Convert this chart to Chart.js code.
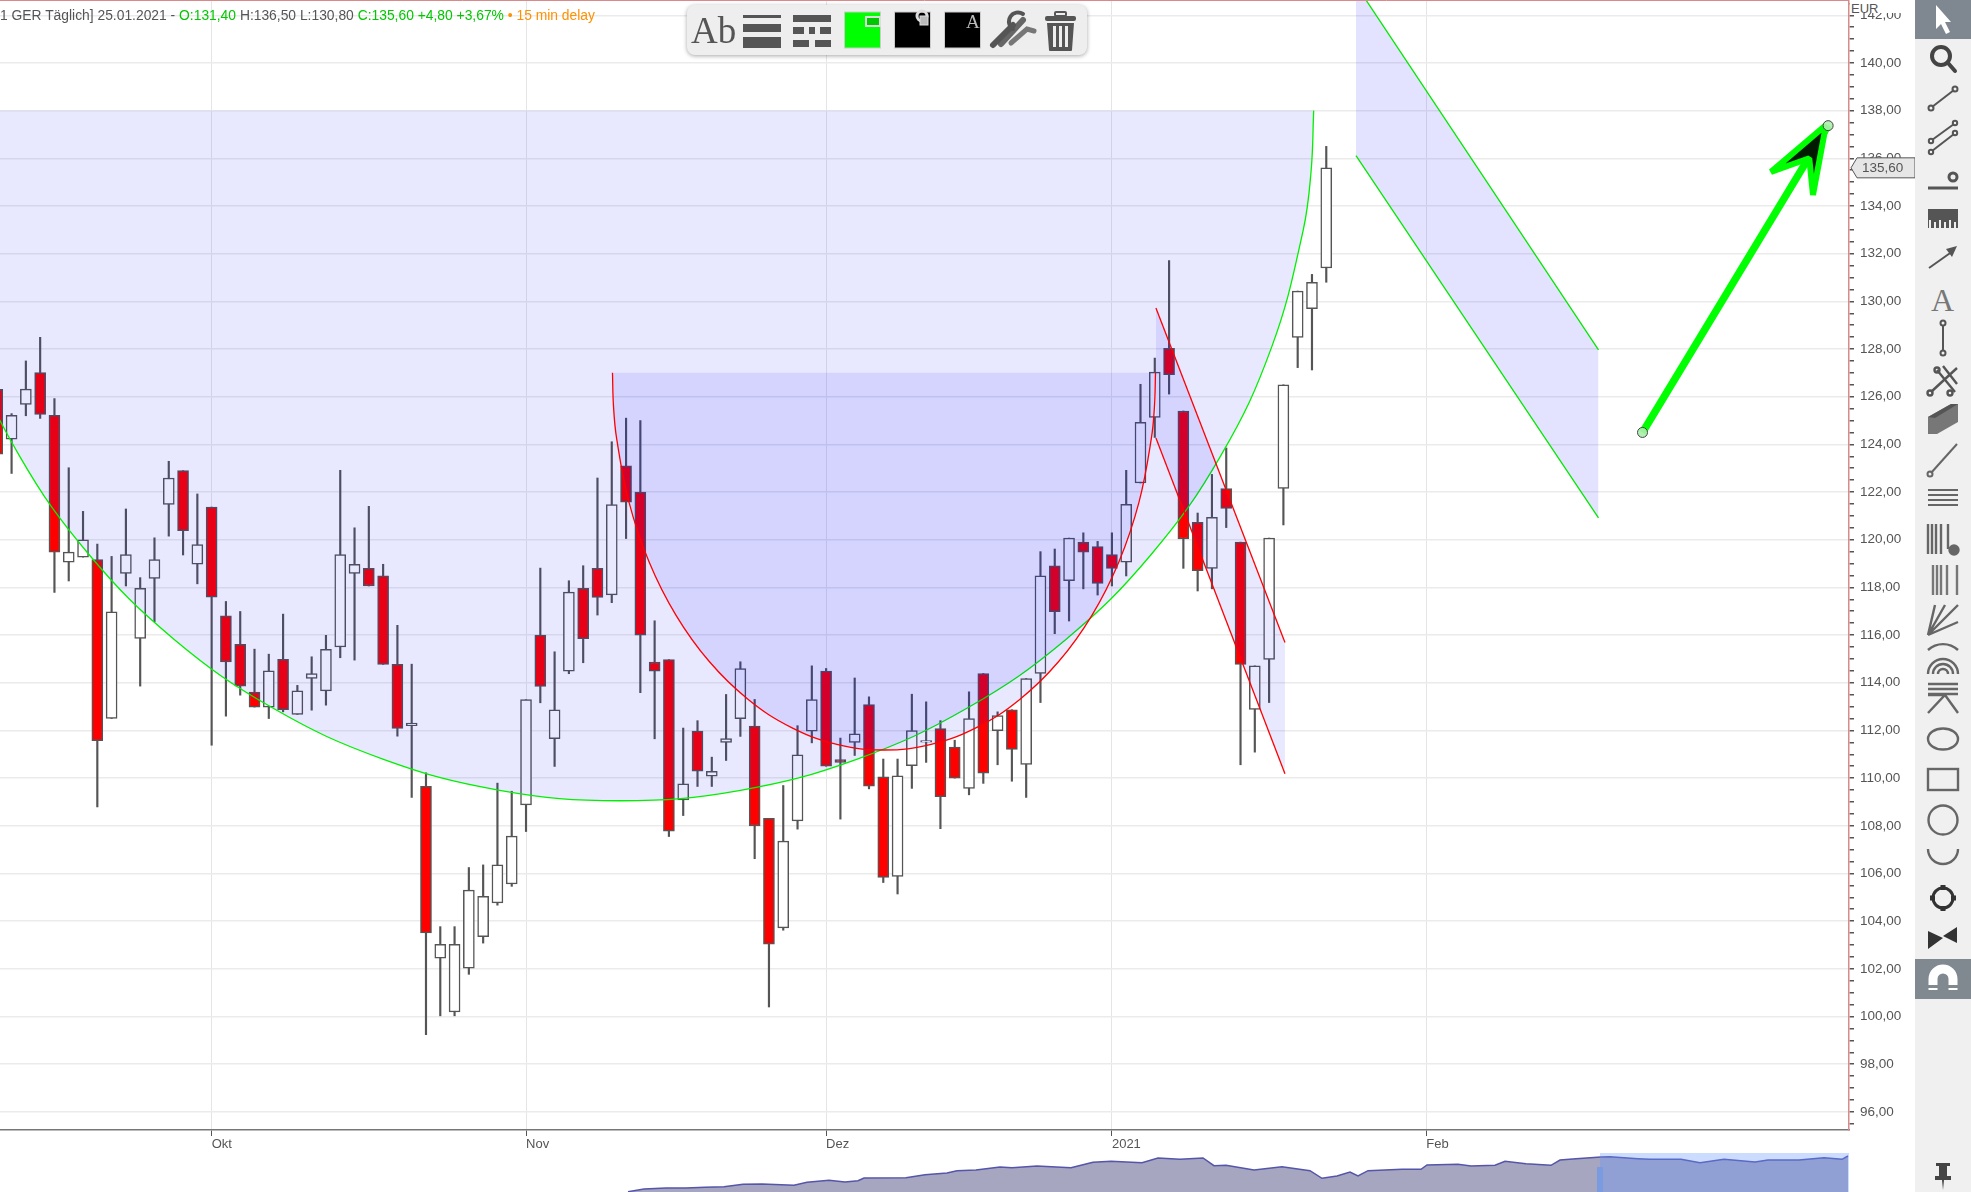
<!DOCTYPE html>
<html>
<head>
<meta charset="utf-8">
<title>Chart</title>
<script src="https://cdn.jsdelivr.net/npm/chart.js@4"></script>
<style>
  html, body { margin: 0; padding: 0; background: #fff; overflow: hidden; }
  #page { position: relative; width: 1971px; height: 1192px; font-family: "Liberation Sans", sans-serif; overflow: hidden; }
  #myChart { position: absolute; left: 0; top: 0; }
  #miniChart { position: absolute; left: 0; top: 1150px; }
  #head { position: absolute; left: 0; top: 7px; font-size: 13.85px; line-height: 16px; color: #555; white-space: nowrap; }
  #head .up { color: #00c800; }
  #head .delay { color: #ff9000; }
  #eur { position: absolute; left: 1850px; top: 0; width: 64px; height: 13px; background: #fff; font-size: 13px; line-height: 18px; color: #555; padding-left: 1px; overflow: hidden; }
  #tools { position: absolute; left: 1915px; top: 0; }
  #bar { position: absolute; left: 687px; top: 5px; width: 400px; height: 50px; background: #eee; border-radius: 8px; box-shadow: 0 1px 4px rgba(0,0,0,.35); }
</style>
</head>
<body>
<div id="page">
  <canvas id="myChart" width="1915" height="1150"></canvas>
  <canvas id="miniChart" width="1849" height="42"></canvas>
  <div id="head">1 GER Täglich] 25.01.2021 - <span class="up">O:131,40</span> H:136,50 L:130,80 <span class="up">C:135,60 +4,80 +3,67%</span> <span class="delay">• 15 min delay</span></div>
  <div id="eur">EUR</div>
  <div id="bar">
    <svg width="400" height="50" viewBox="0 0 400 50">
      <text x="4" y="38" font-family="Liberation Serif" font-size="37" fill="#555">Ab</text>
      <g fill="#555">
        <rect x="56" y="10" width="38" height="3"/><rect x="56" y="19" width="38" height="8"/><rect x="56" y="32" width="38" height="11"/>
        <rect x="106" y="10" width="38" height="7"/>
        <rect x="106" y="22" width="11" height="7"/><rect x="122" y="22" width="6" height="7"/><rect x="133" y="22" width="11" height="7"/>
        <rect x="106" y="35" width="16" height="7"/><rect x="128" y="35" width="16" height="7"/>
      </g>
      <rect x="157.5" y="7" width="36" height="36" fill="#00ff00" stroke="#ccc"/>
      <rect x="179" y="12" width="14" height="9" fill="#00c800" stroke="#ddd" stroke-width="2"/>
      <rect x="207.5" y="7" width="36" height="36" fill="#000" stroke="#ccc"/>
      <rect x="257.5" y="7" width="36" height="36" fill="#000" stroke="#ccc"/>
      <circle cx="235" cy="11" r="5" fill="none" stroke="#ddd" stroke-width="3"/>
      <rect x="233" y="11" width="8" height="9" fill="#bbb" stroke="#ddd"/>
      <text x="279" y="23" font-family="Liberation Serif" font-size="19" fill="#bbb">A</text>
      <g stroke="#666" stroke-linecap="round" fill="none">
        <path d="M314 39 L336 15" stroke-width="6"/>
        <path d="M306 40 L326 20" stroke-width="6" stroke="#555"/>
        <path d="M326 24 A9 9 0 0 1 336 9" stroke-width="4" stroke="#555"/>
        <path d="M324 38 L340 24 L347 26" stroke-width="5" stroke="#777"/>
      </g>
      <g fill="#555">
        <rect x="358" y="11" width="31" height="5" rx="2"/>
        <rect x="368" y="7" width="11" height="4" rx="1" fill="none" stroke="#555" stroke-width="2"/>
        <path d="M360 18 H387 L385 45 Q385 46 384 46 H363 Q362 46 362 45 Z"/>
      </g>
      <g fill="#eee"><rect x="366" y="21" width="3" height="21"/><rect x="372" y="21" width="3" height="21"/><rect x="378" y="21" width="3" height="21"/></g>
    </svg>
  </div>
  <svg id="tools" width="56" height="1192" viewBox="0 0 56 1192">
    <rect width="56" height="1192" fill="#f0f0f0"/>
    <rect width="56" height="39" fill="#7f8891"/>
    <rect y="959" width="56" height="40" fill="#808890"/>
    <g transform="translate(28,19)"><path d="M-7 -14 L8 3 L2 3 L7 13 L3 15 L-2 5 L-7 10 Z" fill="#fff"/></g>
    <g fill="none" stroke="#444" stroke-width="2" transform="translate(28,0)">
      <g transform="translate(0,59)" stroke-width="4"><circle cx="-2" cy="-3" r="9"/><path d="M5 4 L12 12" stroke-linecap="round"/></g>
      <g transform="translate(0,98)" stroke="#555"><path d="M-11 9 L11 -8"/><circle cx="-12" cy="10" r="2.5"/><circle cx="12" cy="-9" r="2.5"/></g>
      <g transform="translate(0,137)" stroke="#555"><path d="M-11 3 L11 -13 M-11 14 L11 -3"/><circle cx="-12" cy="4" r="2.2"/><circle cx="12" cy="-14" r="2.2"/><circle cx="-12" cy="15" r="2.2"/><circle cx="12" cy="-4" r="2.2"/></g>
      <g transform="translate(0,177)" stroke="#555"><path d="M-15 11 H15" stroke-width="3"/><circle cx="10" cy="0" r="4" stroke-width="3"/></g>
      <g transform="translate(0,218)" fill="#555" stroke="none"><path d="M-15 -9 H15 V10 H13 V4 H11 V10 H8 V2 H6 V10 H3 V4 H1 V10 H-2 V2 H-4 V10 H-7 V4 H-9 V10 H-12 V2 H-14 V10 H-15 Z"/></g>
      <g transform="translate(0,257)" stroke="#555"><path d="M-14 11 L10 -6"/><path d="M3 -8 L14 -11 L9 0 Z" fill="#555" stroke="none"/></g>
      <g transform="translate(0,299)" fill="#777" stroke="none"><text x="-12" y="12" font-family="Liberation Serif" font-size="32">A</text></g>
      <g transform="translate(0,338)" stroke="#555"><path d="M0 -13 V13"/><circle cx="0" cy="-15" r="2.5"/><circle cx="0" cy="15" r="2.5"/></g>
      <g transform="translate(0,380)" stroke="#555" stroke-width="2.4"><path d="M-12 12 L14 -12 M-6 -10 L12 12 M0 -14 L14 4"/><circle cx="-13" cy="13" r="2.5"/><circle cx="-6" cy="-10" r="2.5"/><circle cx="7" cy="13" r="2.5"/></g>
      <g transform="translate(0,419)" fill="#777" stroke="none"><path d="M-15 -2 L8 -15 H15 V3 L-6 15 H-15 Z"/><path d="M-15 -2 L8 -15 H15 L-8 -1 Z" fill="#555"/></g>
      <g transform="translate(0,459)" stroke="#666"><path d="M-12 14 L14 -15"/><circle cx="-13" cy="15" r="2.5"/></g>
      <g transform="translate(0,499)" stroke="#666"><path d="M-15 -9 H15 M-15 -4 H15 M-15 1 H15 M-15 6 H15"/></g>
      <g transform="translate(0,539)" stroke="#666" stroke-width="2.4"><path d="M-15 -15 V15 M-11 -15 V15 M-7 -15 V15 M-2 -15 V15 M5 -15 V10"/><circle cx="11" cy="11" r="4.5" fill="#666"/></g>
      <g transform="translate(0,580)" stroke="#777" stroke-width="2.4"><path d="M-10 -15 V15 M-6 -15 V15 M-2 -15 V15 M4 -15 V15 M14 -15 V15"/></g>
      <g transform="translate(0,620)" stroke="#666" stroke-width="2.4"><path d="M-15 15 L-8 -15 M-15 15 L2 -15 M-15 15 L15 -15 M-15 15 L15 2"/></g>
      <g transform="translate(0,660)" stroke="#666" stroke-width="2.4"><path d="M-15 -10 A22 22 0 0 1 15 -10 M-15 14 A15 15 0 0 1 15 14 M-10 14 A10 10 0 0 1 10 14 M-5 14 A5 5 0 0 1 5 14"/></g>
      <g transform="translate(0,698)" stroke="#666" stroke-width="2.4"><path d="M-15 -14 H15 M-15 -9 H15 M-15 -4 H15 M-15 15 L2 -3 L15 15 M-15 -3 H2"/></g>
      <g transform="translate(0,739)" stroke="#666" stroke-width="2.4"><ellipse cx="0" cy="0" rx="15" ry="10.5"/></g>
      <g transform="translate(0,780)" stroke="#666" stroke-width="2.4"><rect x="-15" y="-11" width="30" height="21"/></g>
      <g transform="translate(0,820)" stroke="#666" stroke-width="2.4"><circle cx="0" cy="0" r="14.5"/></g>
      <g transform="translate(0,857)" stroke="#666" stroke-width="2.4"><path d="M-15 -8 A15 15 0 0 0 15 -8"/></g>
      <g transform="translate(0,898)" stroke="#333" stroke-width="3"><circle cx="0" cy="0" r="10"/><path d="M-13 0 H-8 M8 0 H13 M0 -13 V-8 M0 8 V13" stroke-width="5"/></g>
      <g transform="translate(0,938)" fill="#333" stroke="none"><path d="M-15 -7 L0 0 L-15 11 Z M14 -11 L0 -2 L14 5 Z"/></g>
      <g transform="translate(0,979)" stroke="#fff" stroke-width="9"><path d="M-10 11 V0 A10 10 0 0 1 10 0 V11"/></g>
      <g transform="translate(0,1176)" fill="#444" stroke="none"><path d="M-7 -13 H7 V-10 H4 V0 H8 V4 H1 L0 14 L-1 4 H-8 V0 H-4 V-10 H-7 Z"/></g>
    </g>
    <g fill="#808890" transform="translate(28,979)"><rect x="-15" y="6" width="10" height="3"/><rect x="5" y="6" width="10" height="3"/></g>
  </svg>
</div>
<script>
// candles, one entry per trading day, first one is cut by the left edge
const opens = [126.31,124.22,125.68,127.01,125.22,119.06,119.27,119.17,112.5,118.59,115.86,118.38,121.48,122.9,118.97,121.37,116.81,115.61,113.61,112.98,114.98,112.67,114.18,113.66,115.5,118.59,118.8,118.49,114.77,112.2,109.66,102.45,100.19,102.03,103.35,104.77,105.56,108.88,116,111.65,114.49,117.96,118.8,117.69,123.1,122,114.87,114.97,109.09,111.97,110.08,111.5,112.49,112.18,108.31,103.72,108.21,111.97,114.49,110.78,111.5,113.08,110.05,105.88,110.52,111.51,112.08,111.3,109.57,114.39,111.99,112.87,110.57,114.39,118.91,118.28,119.9,119.71,119.38,119.06,122.38,125.13,128.03,125.4,120.73,118.8,122.15,119.9,112.88,114.98,122.15,128.49,129.69,131.4];
const closes = [123.59,125.22,126.32,125.26,119.48,119.48,120,111.57,116.98,119.38,117.96,119.17,122.59,120.38,119.8,117.59,114.87,113.86,112.98,114.5,112.87,113.66,114.39,115.4,119.38,118.97,118.06,114.77,112.08,112.31,103.51,103.03,103.03,105.3,105.04,106.36,107.57,113.29,113.85,112.87,117.8,115.85,117.58,121.47,121.58,116,114.49,107.78,109.76,110.29,110.29,111.66,114.59,107.99,103.03,107.36,110.98,113.29,110.5,110.66,111.86,109.66,105.83,110.1,111.99,111.57,109.22,110,112.5,110.21,112.62,111.2,114.18,118.49,116.98,120.07,119.48,118.17,118.8,121.48,124.92,127.03,126.92,120.03,118.7,120.94,121.31,114.77,114.71,120.07,126.5,130.43,130.8,135.6];
const highs = [126.4,125.29,127.5,128.49,125.92,123.02,121.19,119.82,119.3,121.29,118.41,120.08,123.29,122.9,121.92,121.37,117.41,116.99,115.41,115.2,116.88,113.89,115.09,115.99,122.91,120.5,121.4,118.97,116.41,114.78,110.22,103.77,103.77,106.25,106.36,109.79,109.45,113.29,118.81,115.3,118.28,118.91,122.59,124.11,125.1,125,116.6,114.97,112.1,112.41,110.88,113.51,114.88,113.3,108.31,109.69,112.2,114.71,114.6,111.68,114.2,113.41,110.8,110.8,113.52,113.2,112.41,111.59,113.62,114.39,112.78,112.87,114.18,119.5,119.61,120.07,120.29,119.93,120.29,122.91,126.52,127.62,131.71,125.4,121.12,122.74,123.85,119.9,114.71,120.07,126.5,130.43,131.13,136.5];
const lows = [123.5,122.78,125.2,125.09,117.79,118.27,119.27,108.79,112.5,118.06,113.86,116.56,120.15,119.36,118.15,111.38,112.6,113.48,112.98,112.5,112.78,112.67,112.85,113.06,115.05,114.95,118.06,114.77,111.76,109.19,99.24,100.03,100.03,101.77,103.08,104.67,105.46,107.76,113.16,110.49,114.38,114.84,116.84,117.36,120.05,113.58,111.65,107.55,108.43,109.65,109.65,110.74,111.75,106.62,100.4,103.62,107.86,111.48,110.5,108.28,110.95,109.55,105.62,105.14,109.57,110.66,107.88,110,109.3,109.78,110.56,109.87,109.19,113.17,116.06,116.59,117.94,117.68,118.06,118.48,122.38,124.29,126.11,118.8,117.85,117.94,120.51,110.56,111.09,113.17,120.62,127.22,127.12,130.8];

const monthPos = [15,37,58,78,100];
const monthLabels = ['Okt','Nov','Dez','2021','Feb'];
const yLabelled = [96,98,100,102,104,106,108,110,112,114,116,118,120,122,124,126,128,130,132,134,136,138,140,142];

// drawings
const bigArcX = [-4.96,-4.78,-4.22,-2.03,1.54,6.4,12.38,19.31,26.98,35.15,43.58,52.01,60.18,67.85,74.78,80.76,85.62,89.19,91.38,91.94,92.12];
const bigArcY = [138,135.48,132.97,128.1,123.53,119.39,115.82,112.93,110.8,109.49,109.05,109.49,110.8,112.93,115.82,119.39,123.53,128.1,132.97,135.48,138];
const smallArcX = [43.05,43.12,43.34,44.2,45.6,47.5,49.84,52.55,55.55,58.75,62.05,65.35,68.55,71.55,74.26,76.6,78.5,79.9,80.76,80.98,81.05];
const smallArcY = [127,125.62,124.25,121.59,119.09,116.83,114.88,113.3,112.13,111.42,111.18,111.42,112.13,113.3,114.88,116.83,119.09,121.59,124.25,125.62,127];
const redTopX = [81.08,90.11];
const redTopY = [129.72,115.69];
const redLowX = [81.08,90.11];
const redLowY = [124.27,110.18];
const greenTopX = [95.08,112.05];
const greenTopY = [143.27,127.96];
const greenLowX = [95.08,112.05];
const greenLowY = [136.11,120.92];
const arrowX = [115.13,128.12];
const arrowY = [124.5,137.37];
const arrowHeadX = [127.97,124.12,126.8,127.06,127.97];
const arrowHeadY = [137.4,135.43,136,134.46,137.4];

// overview strip at the bottom
const miniX = [628,644,666,686,705,724,743,762,794,807,829,845,858,864,906,925,947,957,976,1000,1012,1037,1071,1093,1111,1142,1158,1180,1203,1214,1226,1254,1282,1310,1322,1337,1350,1358,1368,1402,1421,1427,1458,1471,1495,1505,1526,1551,1560,1576,1601,1610,1638,1650,1681,1700,1724,1755,1768,1799,1824,1842,1848];
const miniY = [0.3,3,4,4,4.7,5.3,7.7,8,6.7,9.7,11.7,10,11.3,14,14.3,17.3,19,21.3,22,25,24.3,26,24.3,29.7,30.7,29.3,34,32.7,34,26.3,26.7,22,25.3,21.3,13.7,16,20,16,21.3,22.7,22.7,27,27.7,26,26.7,30.7,28.3,26.7,32,33.3,35,35.3,33.3,32.7,32.7,29.3,32.7,30,32,32,34.3,32.7,36];
const miniWindow = [1600,1849];

function pts(xs, ys) { return xs.map((x, i) => ({x: x, y: ys[i]})); }
const fmt = v => v.toFixed(2).replace('.', ',');

const candleColor = opens.map((o, i) => closes[i] < o ? '#ff0000' : '#ffffff');
const wicks = opens.map((o, i) => ({x: i, y: [lows[i], highs[i]]}));
const bodies = opens.map((o, i) => ({x: i, y: [o, closes[i]]}));
const lastClose = closes[closes.length - 1];

const shade = 'rgba(0,0,255,0.09)';
const shape = {type: 'line', pointRadius: 0, borderWidth: 1.3, tension: 0};

// price tag on the axis and the thin line along the top
const priceTag = {
  id: 'priceTag',
  afterDraw(chart) {
    const c = chart.ctx, y = chart.scales.y.getPixelForValue(lastClose), a = chart.chartArea;
    c.save();
    c.strokeStyle = '#d98a8a';
    c.beginPath(); c.moveTo(a.left, 0.5); c.lineTo(a.right, 0.5); c.stroke();
    c.beginPath();
    c.moveTo(a.right + 2, y); c.lineTo(a.right + 8, y - 10); c.lineTo(1915, y - 10);
    c.lineTo(1915, y + 10); c.lineTo(a.right + 8, y + 10); c.closePath();
    c.fillStyle = '#e6e6e6'; c.fill();
    c.strokeStyle = '#555'; c.stroke();
    c.fillStyle = '#555'; c.font = '13.5px "Liberation Sans"';
    c.textBaseline = 'middle';
    c.fillText(fmt(lastClose), a.right + 13, y + 0.5);
    c.restore();
  }
};

new Chart(document.getElementById('myChart'), {
  type: 'bar',
  plugins: [priceTag],
  data: {
    datasets: [
      {data: wicks, barThickness: 1.5, grouped: false, backgroundColor: '#555', borderWidth: 0, order: 20},
      {data: bodies, barThickness: 11, grouped: false, backgroundColor: candleColor, borderColor: '#555', borderWidth: 1.5, borderSkipped: false, order: 19},
      {...shape, data: pts(bigArcX, bigArcY), tension: 0.4, borderColor: '#00f000', fill: {value: 138}, backgroundColor: shade, order: 10},
      {...shape, data: pts(smallArcX, smallArcY), tension: 0.4, borderColor: '#ff0000', fill: {value: 127}, backgroundColor: shade, order: 9},
      {...shape, data: pts(redTopX, redTopY), borderColor: '#ff0000', fill: '+1', backgroundColor: shade, order: 8},
      {...shape, data: pts(redLowX, redLowY), borderColor: '#ff0000', order: 7},
      {...shape, data: pts(greenTopX, greenTopY), borderColor: '#00e800', fill: '+1', backgroundColor: 'rgba(0,0,255,0.11)', order: 6},
      {...shape, data: pts(greenLowX, greenLowY), borderColor: '#00e800', order: 5},
      {type: 'line', data: pts(arrowX, arrowY), borderColor: '#00ff00', borderWidth: 7.5, pointRadius: 0, order: 4},
      {type: 'line', data: pts(arrowHeadX, arrowHeadY), borderColor: '#00ff00', borderWidth: 6, borderJoinStyle: 'bevel', pointRadius: 0, fill: 'shape', backgroundColor: '#021a02', order: 3},
      {type: 'line', data: pts(arrowX, arrowY), showLine: false, pointRadius: 5, pointBackgroundColor: 'rgba(170,240,170,0.9)', pointBorderColor: '#444', pointBorderWidth: 1, order: 2}
    ]
  },
  options: {
    responsive: false,
    animation: false,
    devicePixelRatio: 1,
    layout: {padding: 0, autoPadding: false},
    plugins: {legend: {display: false}, tooltip: {enabled: false}},
    scales: {
      x: {
        type: 'linear',
        offset: false,
        min: 0.19,
        max: 129.58,
        grid: {offset: false, color: 'rgba(0,0,0,0.1)', tickColor: '#555', tickLength: 6},
        border: {color: '#777', width: 1.5},
        ticks: {
          autoSkip: false, maxRotation: 0, align: 'start', padding: 1,
          color: '#555', font: {family: 'Liberation Sans', size: 13},
          callback: v => monthLabels[monthPos.indexOf(v)]
        },
        afterBuildTicks: s => { s.ticks = monthPos.map(v => ({value: v})); },
        afterFit: s => { s.height = 20; s.paddingLeft = 0; s.paddingRight = 0; }
      },
      y: {
        position: 'right',
        min: 95.24,
        max: 142.64,
        grid: {
          color: c => c.tick && yLabelled.includes(c.tick.value) ? '#ebebeb' : 'transparent',
          lineWidth: 1.5, tickColor: '#555', tickLength: 5
        },
        border: {color: '#d98a8a', width: 1.5},
        ticks: {
          autoSkip: false, padding: 6, color: '#555',
          font: {family: 'Liberation Sans', size: 13.5},
          callback: v => yLabelled.includes(v) ? fmt(v) : ''
        },
        afterBuildTicks: s => {
          const t = [];
          for (let v = 95.5; v <= 142.5; v += 0.5) t.push({value: v});
          s.ticks = t;
        },
        afterFit: s => { s.width = 66; s.paddingTop = 0; s.paddingBottom = 0; }
      }
    }
  }
});

// highlighted part of the overview strip
const miniShade = {
  id: 'miniShade',
  afterDatasetsDraw(chart) {
    const c = chart.ctx, x = chart.scales.x, y = chart.scales.y;
    c.save();
    c.fillStyle = 'rgba(100,150,255,0.33)';
    c.fillRect(x.getPixelForValue(miniWindow[0]), y.getPixelForValue(39), x.getPixelForValue(miniWindow[1]) - x.getPixelForValue(miniWindow[0]), y.getPixelForValue(0) - y.getPixelForValue(39));
    c.fillStyle = '#7b9be0';
    c.fillRect(x.getPixelForValue(miniWindow[0]) - 3, y.getPixelForValue(25), 6, y.getPixelForValue(0) - y.getPixelForValue(25));
    c.restore();
  }
};

new Chart(document.getElementById('miniChart'), {
  type: 'line',
  plugins: [miniShade],
  data: {
    datasets: [{
      data: pts(miniX, miniY), borderColor: '#5555aa', borderWidth: 1.5, pointRadius: 0,
      fill: 'origin', backgroundColor: '#a6a6c0'
    }]
  },
  options: {
    responsive: false,
    animation: false,
    devicePixelRatio: 1,
    layout: {padding: 0, autoPadding: false},
    plugins: {legend: {display: false}, tooltip: {enabled: false}},
    scales: {
      x: {type: 'linear', display: false, min: 0, max: 1849},
      y: {display: false, min: 0, max: 42}
    }
  }
});
</script>
</body>
</html>
